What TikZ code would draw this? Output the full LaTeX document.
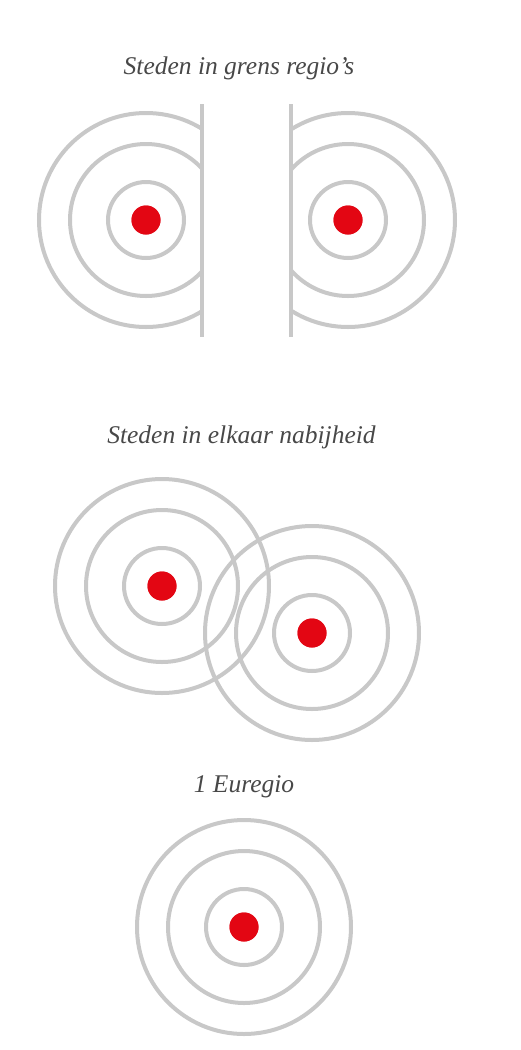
\documentclass[tikz,border=0pt]{standalone}
\usepackage{fontspec}
\setmainfont{Liberation Serif}
\definecolor{ring}{HTML}{C8C8C8}
\definecolor{dotred}{HTML}{E30613}
\definecolor{txt}{HTML}{484848}
\begin{document}
\begin{tikzpicture}[x=1pt,y=-1pt,
  ringline/.style={draw=ring,line width=4pt},
  city/.style={circle,fill=dotred,inner sep=0pt,minimum size=29pt},
  title/.style={anchor=base,text=txt,font=\itshape\fontsize{25.5}{30}\selectfont,inner sep=0pt}]
\fill[white] (0,0) rectangle (521,1050);
\useasboundingbox (0,0) rectangle (521,1050);
% --- Section 1
\node[title] (t1) at (239,74) {Steden in grens regio’s};
\node[city] (c1) at (146,220) {};
\node[city] (c2) at (348,220) {};
\begin{scope}
  \clip (0,90) rectangle (202,350);
  \foreach \r in {38,76,107} \draw[ringline] (c1.center) circle[radius=\r];
\end{scope}
\begin{scope}
  \clip (291,90) rectangle (521,350);
  \foreach \r in {38,76,107} \draw[ringline] (c2.center) circle[radius=\r];
\end{scope}
\coordinate (b1t) at (202,104); \coordinate (b1b) at (202,337);
\coordinate (b2t) at (291,104); \coordinate (b2b) at (291,337);
\draw[ringline] (b1t) -- (b1b);
\draw[ringline] (b2t) -- (b2b);
% --- Section 2
\node[title] (t2) at (241.5,443) {Steden in elkaar nabijheid};
\node[city] (c3) at (162,586) {};
\node[city] (c4) at (312,633) {};
\foreach \r in {38,76,107} \draw[ringline] (c3.center) circle[radius=\r];
\foreach \r in {38,76,107} \draw[ringline] (c4.center) circle[radius=\r];
\node[city] at (c3) {};
\node[city] at (c4) {};
% --- Section 3
\node[title] (t3) at (244,792) {1 Euregio};
\node[city] (c5) at (244,927) {};
\foreach \r in {38,76,107} \draw[ringline] (c5.center) circle[radius=\r];
\node[city] at (c5) {};
\node[city] at (c1) {};
\node[city] at (c2) {};
\end{tikzpicture}
\end{document}
